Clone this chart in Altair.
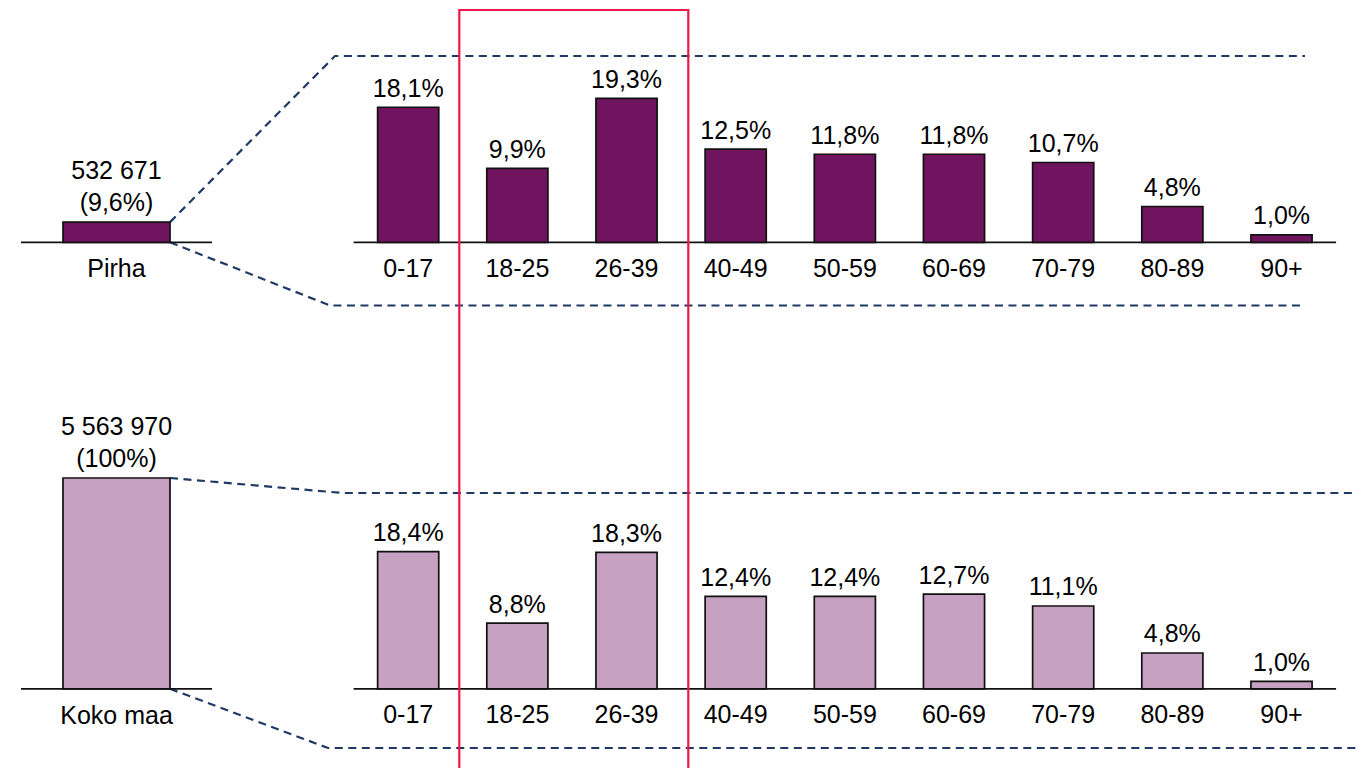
import altair as alt
import pandas as pd

# ---------------- data ----------------
ages = ["0-17", "18-25", "26-39", "40-49", "50-59", "60-69", "70-79", "80-89", "90+"]
pirha_pct = [18.1, 9.9, 19.3, 12.5, 11.8, 11.8, 10.7, 4.8, 1.0]
koko_pct = [18.4, 8.8, 18.3, 12.4, 12.4, 12.7, 11.1, 4.8, 1.0]
regions = ["Pirha", "Koko maa"]
population = [532671, 5563970]

# ---------------- layout (screen px) ----------------
M = 8
W, H = 1349, 760
RX0, RX1 = 353.6, 1336.1          # right panel band range
LX0, LX1 = 21.0, 212.0            # left panel band range
TOP_BASE, BOT_BASE = 242.3, 688.8
PX_PER_PCT = 7.46
LEFT_BAR_H = 210.8
PAD_INNER = 0.44
LEFT_PAD_OUTER = 0.3925
FONT = "Liberation Sans"
FS = 25
TOP_COLOR = "#70145F"
BOT_COLOR = "#C6A1C2"
DASH_COLOR = "#1F3864"
RED = "#EC1848"
INK = "#000000"


def fmt_pct(v):
    return f"{v:.1f}".replace(".", ",") + "%"


def fmt_count(n):
    return f"{n:,}".replace(",", " ")


def right_row(values, base, color):
    df = pd.DataFrame({"age": ages, "pct": values, "label": [fmt_pct(v) for v in values]})
    xs = alt.Scale(domain=ages, range=[RX0 - M, RX1 - M],
                   paddingInner=PAD_INNER, paddingOuter=PAD_INNER / 2)
    ys = alt.Scale(domain=[0, 20], range=[base - M, base - M - 20 * PX_PER_PCT], nice=False)
    x = alt.X("age:N", scale=xs, axis=None)
    y = alt.Y("pct:Q", scale=ys, axis=None)
    ch = alt.Chart(df)
    bars = ch.mark_bar(color=color, stroke="#111111", strokeWidth=1.7).encode(x=x, y=y)
    vals = ch.mark_text(font=FONT, fontSize=FS, baseline="alphabetic", dy=-10.5,
                        color=INK).encode(x=x, y=y, text="label:N")
    cats = ch.mark_text(font=FONT, fontSize=FS, baseline="alphabetic", dy=34.5,
                        color=INK).encode(x=x, y=alt.YDatum(0, scale=ys, axis=None),
                                          text="age:N")
    return [bars, vals, cats]


def left_row(i, base, color):
    total = max(population)
    df = pd.DataFrame({
        "region": [regions[i]],
        "pop": [population[i]],
        "count": [fmt_count(population[i])],
        "share": ["(" + (f"{population[i] / total * 100:.1f}".replace(".", ",")
                         if population[i] != total else "100") + "%)"],
    })
    xs = alt.Scale(domain=[regions[i]], range=[LX0 - M, LX1 - M],
                   paddingInner=0, paddingOuter=LEFT_PAD_OUTER)
    ys = alt.Scale(domain=[0, total], range=[base - M, base - M - LEFT_BAR_H], nice=False)
    x = alt.X("region:N", scale=xs, axis=None)
    y = alt.Y("pop:Q", scale=ys, axis=None)
    ch = alt.Chart(df)
    bar = ch.mark_bar(color=color, stroke="#111111", strokeWidth=1.7).encode(x=x, y=y)
    share = ch.mark_text(font=FONT, fontSize=FS, baseline="alphabetic", dy=-11,
                         color=INK).encode(x=x, y=y, text="share:N")
    count = ch.mark_text(font=FONT, fontSize=FS, baseline="alphabetic", dy=-43.5,
                         color=INK).encode(x=x, y=y, text="count:N")
    name = ch.mark_text(font=FONT, fontSize=FS, baseline="alphabetic", dy=35,
                        color=INK).encode(x=x, y=alt.YDatum(0, scale=ys, axis=None),
                                          text="region:N")
    return [bar, share, count, name]


# canvas scales for decorations (screen coordinates)
cx = alt.Scale(domain=[M, M + W], range=[0, W], nice=False, zero=False)
cy = alt.Scale(domain=[M, M + H], range=[0, H], nice=False, zero=False)

# baselines
rules_df = pd.DataFrame({
    "x": [RX0, RX0, LX0, LX0],
    "x2": [RX1, RX1, LX1, LX1],
    "y": [TOP_BASE, BOT_BASE, TOP_BASE, BOT_BASE],
})
rules = alt.Chart(rules_df).mark_rule(color="#111111", strokeWidth=1.7).encode(
    x=alt.X("x:Q", scale=cx, axis=None), x2="x2:Q",
    y=alt.Y("y:Q", scale=cy, axis=None))

# connector dashed lines (start at the left bar corners)
step = (LX1 - LX0) / (1 + 2 * LEFT_PAD_OUTER)
bar_right = LX0 + (LX1 - LX0 - step) / 2 + step
top_bar_top = TOP_BASE - population[0] / max(population) * LEFT_BAR_H
bot_bar_top = BOT_BASE - LEFT_BAR_H
conn = []
for cid, pts in enumerate([
    [(bar_right, top_bar_top), (335, 56), (1305, 56)],
    [(bar_right, TOP_BASE), (330, 305.5), (1300, 305.5)],
    [(bar_right, bot_bar_top), (343, 493), (1362, 493)],
    [(bar_right, BOT_BASE), (328, 748), (1356, 748)],
]):
    for k, (px, py) in enumerate(pts):
        conn.append({"id": cid, "k": k, "x": px, "y": py})
conn_df = pd.DataFrame(conn)
connectors = alt.Chart(conn_df).mark_line(color=DASH_COLOR, strokeWidth=2.2,
                                          strokeDash=[8, 5.5]).encode(
    x=alt.X("x:Q", scale=cx, axis=None),
    y=alt.Y("y:Q", scale=cy, axis=None),
    detail="id:N", order="k:Q")

# highlight rectangle
hl_df = pd.DataFrame({"x": [459.3], "x2": [688.3], "y": [10.0], "y2": [820.0]})
highlight = alt.Chart(hl_df).mark_rect(fillOpacity=0, stroke=RED, strokeWidth=2.2,
                                       clip=True).encode(
    x=alt.X("x:Q", scale=cx, axis=None), x2="x2:Q",
    y=alt.Y("y:Q", scale=cy, axis=None), y2="y2:Q")

layers = ([connectors, rules]
          + right_row(pirha_pct, TOP_BASE, TOP_COLOR)
          + right_row(koko_pct, BOT_BASE, BOT_COLOR)
          + left_row(0, TOP_BASE, TOP_COLOR)
          + left_row(1, BOT_BASE, BOT_COLOR)
          + [highlight])

chart = (alt.layer(*layers)
         .resolve_scale(x="independent", y="independent")
         .properties(width=W, height=H, padding=0,
                     autosize=alt.AutoSizeParams(type="none"))
         .configure_view(stroke=None))

chart.save("out.html", embed_options={"renderer": "svg", "actions": False})
